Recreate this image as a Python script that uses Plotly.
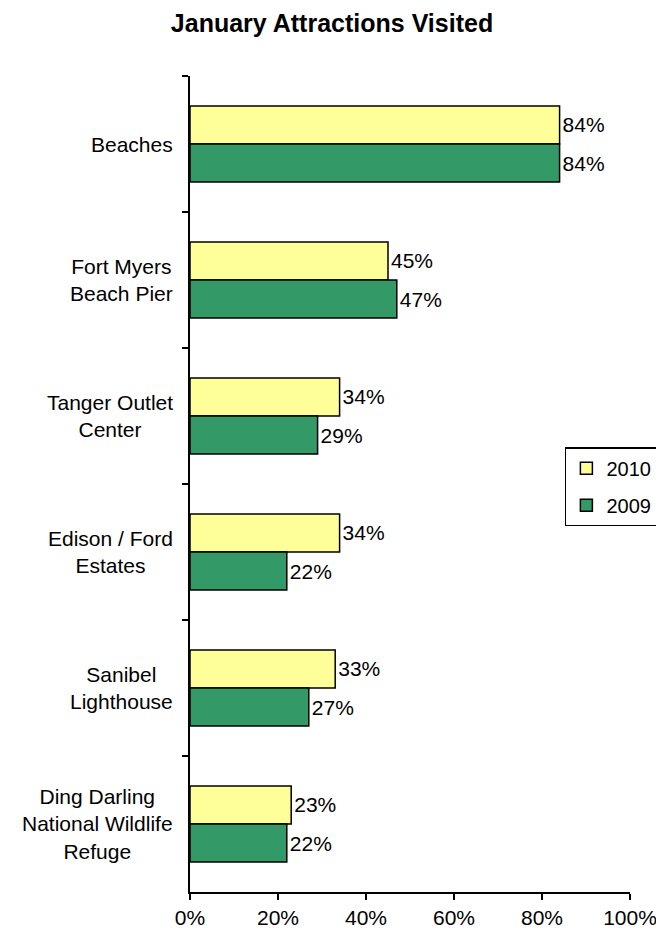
import plotly.graph_objects as go

# Dados
categories = ["Beaches", "Fort Myers Beach Pier", "Tanger Outlet Center",
              "Edison / Ford Estates", "Sanibel Lighthouse",
              "Ding Darling National Wildlife Refuge"]
category_labels = ["Beaches", "Fort Myers<br>Beach Pier", "Tanger Outlet<br>Center",
                   "Edison / Ford<br>Estates", "Sanibel<br>Lighthouse",
                   "Ding Darling<br>National Wildlife<br>Refuge"]
values_2010 = [0.84, 0.45, 0.34, 0.34, 0.33, 0.23]
values_2009 = [0.84, 0.47, 0.29, 0.22, 0.27, 0.22]
x_ticks = [0, 0.2, 0.4, 0.6, 0.8, 1.0]

FONT = "Liberation Sans, Arial, sans-serif"

# a página tem margem de 8px no body, então a figura fica 8px menor
W, H = 656, 927

fig = go.Figure()

fig.add_trace(go.Bar(
    y=categories, x=values_2010, orientation='h', name='2010',
    legendgroup='a',
    marker=dict(color='#FFFF99', line=dict(color='black', width=1.5)),
    text=[f"{v:.0%}" for v in values_2010], textposition='outside',
    textfont=dict(size=21, color='black', family=FONT),
    constraintext='none', cliponaxis=False
))

fig.add_trace(go.Bar(
    y=categories, x=values_2009, orientation='h', name='2009',
    legendgroup='b',
    marker=dict(color='#339966', line=dict(color='black', width=1.5)),
    text=[f"{v:.0%}" for v in values_2009], textposition='outside',
    textfont=dict(size=21, color='black', family=FONT),
    constraintext='none', cliponaxis=False
))

# Rótulos das categorias centralizados
for cat, lab in zip(categories, category_labels):
    fig.add_annotation(
        x=0, xref='paper', xshift=-15, xanchor='right',
        y=cat, yref='y', yanchor='middle',
        text=lab, align='center', showarrow=False,
        font=dict(size=21, color='black', family=FONT)
    )

fig.update_layout(
    width=W, height=H,
    paper_bgcolor='white', plot_bgcolor='white',
    margin=dict(l=182, r=34, t=68, b=43, autoexpand=False),
    barmode='group', bargap=0.44, bargroupgap=0,
    font=dict(family=FONT, size=21, color='black'),
    title=dict(text='<b>January Attractions Visited</b>', x=(332 - 8) / W, xref='container',
               y=1 - 15 / H, yanchor='middle', xanchor='center',
               font=dict(size=25, family=FONT, color='black')),
    legend=dict(x=0.852, y=0.545, xanchor='left', yanchor='top',
                bordercolor='black', borderwidth=1.5, bgcolor='white',
                font=dict(size=20, family=FONT), tracegroupgap=8,
                traceorder='grouped', itemwidth=30),
    showlegend=True
)

fig.update_xaxes(
    range=[0, 1], tickvals=x_ticks, tickformat='.0%',
    showgrid=False, zeroline=False, showline=True, linecolor='black', linewidth=1.5,
    ticks='outside', ticklen=6, tickwidth=1.5, tickcolor='black',
    tickfont=dict(size=21, family=FONT)
)

fig.update_yaxes(
    type='category', autorange='reversed', tickson='boundaries',
    showticklabels=False, showgrid=False, zeroline=False,
    showline=True, linecolor='black', linewidth=1.5,
    ticks='outside', ticklen=6, tickwidth=1.5, tickcolor='black'
)

fig.write_html("out.html")
